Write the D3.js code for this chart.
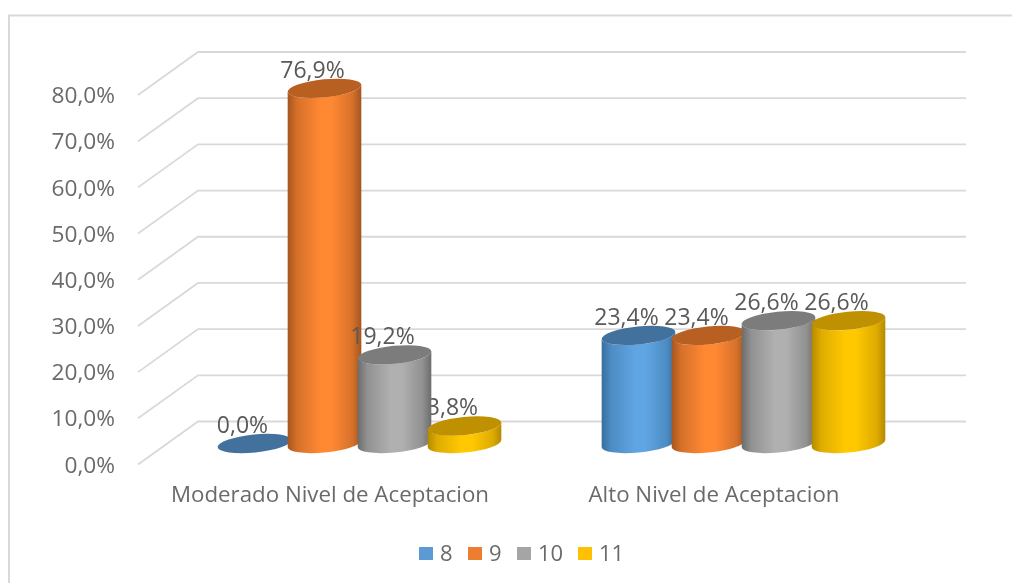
<!DOCTYPE html>
<html><head><meta charset="utf-8">
<style>
html,body{margin:0;padding:0;background:#fff;overflow:hidden}
svg{display:block;filter:blur(0.5px)}
text{font-family:"Open Sans",sans-serif;fill:#595959}
</style>
<script src="https://cdnjs.cloudflare.com/ajax/libs/d3/7.8.5/d3.min.js"></script>
</head><body>
<svg id="c" width="1012" height="583"></svg>
<script>
const categories = ["Moderado Nivel de Aceptacion", "Alto Nivel de Aceptacion"];
const seriesNames = ["8", "9", "10", "11"];
const values8 = [0.0, 23.4];
const values9 = [76.9, 23.4];
const values10 = [19.2, 26.6];
const values11 = [3.8, 26.6];
const seriesValues = [values8, values9, values10, values11];
const yTicks = [0, 10, 20, 30, 40, 50, 60, 70, 80];
const legendColors = ["#5b9bd5", "#ed7d31", "#a5a5a5", "#ffc000"];
const edgeColors = ["#386e9e", "#a4551f", "#6c6c6c", "#b58a00"];
const midColors = ["#5fa5e3", "#ff8833", "#b0b0b0", "#ffc800"];
const topColors = ["#41719c", "#b86022", "#7c7c7c", "#bf9000"];

const svg = d3.select("#c");
const fmt = v => v.toFixed(1).replace(".", ",") + "%";
const y = d3.scaleLinear().domain([0, 80]).range([421.5, 52]);
const x0 = d3.scaleBand().domain(categories).range([167.5, 935.5]);
const x1 = d3.scaleBand().domain(seriesNames).range([0, 280]);
const cx = (ci, si) => x0(categories[ci]) + x0.bandwidth() / 2 - 140 + x1(seriesNames[si]) + x1.bandwidth() / 2;

// frame
svg.append("path").attr("d", "M9,583V15.5H1012").attr("fill", "none").attr("stroke", "#d9d9d9").attr("stroke-width", 2);

// gradients
const defs = svg.append("defs");
seriesNames.forEach((s, i) => {
  const g = defs.append("linearGradient").attr("id", "g" + i);
  const mix = d3.interpolateRgb(edgeColors[i], midColors[i])(0.55);
  [[0, edgeColors[i]], [0.13, mix], [0.45, midColors[i]], [0.6, midColors[i]], [0.88, mix], [1, edgeColors[i]]].forEach(([o, c]) =>
    g.append("stop").attr("offset", o).attr("stop-color", c));
});

// walls
const grid = svg.append("g").attr("fill", "none").attr("stroke", "#d9d9d9").attr("stroke-width", 1.8);
const wallLeft = 198, wallRight = 966, floorX = 138, floorDy = 43;
yTicks.forEach(t => {
  grid.append("path").attr("d", d3.line()([[floorX, y(t) + floorDy], [wallLeft, y(t)], [wallRight, y(t)]]));
});

// y axis
svg.append("g").selectAll("text").data(yTicks).join("text")
  .attr("x", 115).attr("y", d => y(d) + 43).attr("dy", "0.36em")
  .attr("text-anchor", "end").attr("font-size", 22.7).style("fill", "#6a6a6a")
  .text(fmt);

// cylinders
const a = 37, b = 9, rot = -5.7, th = -rot * Math.PI / 180;
const X = Math.sqrt(a * a * Math.cos(th) ** 2 + b * b * Math.sin(th) ** 2);
const Yo = (a * a - b * b) * Math.sin(th) * Math.cos(th) / X;
const baseDy = 22;
const bars = [];
seriesNames.forEach((s, si) => categories.forEach((c, ci) => bars.push({ si, ci, v: seriesValues[si][ci] })));
bars.sort((p, q) => p.ci - q.ci || p.si - q.si);

function label(sel, d) {
  sel.append("text")
    .attr("x", cx(d.ci, d.si) - 12).attr("y", y(d.v) + baseDy - 10.5)
    .attr("text-anchor", "middle").attr("font-size", 23).text(fmt(d.v));
}
// the short bar's label sits behind its neighbour
const under = svg.append("g");
bars.filter(d => d.v > 0 && d.v < 10).forEach(d => label(under, d));

const g = svg.append("g");
bars.forEach(d => {
  const c = cx(d.ci, d.si), top = y(d.v) + baseDy, bot = y(0) + baseDy;
  if (d.v > 0) {
    g.append("path")
      .attr("d", `M${c - X},${top + Yo}V${bot + Yo}A${a},${b} ${rot} 0 0 ${c + X},${bot - Yo}V${top - Yo}A${a},${b} ${rot} 0 1 ${c - X},${top + Yo}Z`)
      .attr("fill", `url(#g${d.si})`);
  }
  g.append("ellipse").attr("cx", c).attr("cy", top).attr("rx", a).attr("ry", b)
    .attr("transform", `rotate(${rot} ${c} ${top})`).attr("fill", topColors[d.si]);
});

const labels = svg.append("g");
bars.filter(d => !(d.v > 0 && d.v < 10)).forEach(d => label(labels, d));

// categories
svg.append("g").selectAll("text").data(categories).join("text")
  .attr("x", (d, i) => i === 0 ? 330 : 714).attr("y", 502)
  .attr("text-anchor", "middle").attr("font-size", 22.3).style("fill", "#6a6a6a").text(d => d);

// legend
const legendX = [419, 468, 517, 578];
const lg = svg.append("g");
seriesNames.forEach((s, i) => {
  lg.append("rect").attr("x", legendX[i]).attr("y", 547).attr("width", 14).attr("height", 13).attr("fill", legendColors[i]);
  lg.append("text").attr("x", legendX[i] + 21).attr("y", 561).attr("font-size", 22).style("fill", "#6a6a6a").text(s);
});
</script>
</body></html>
